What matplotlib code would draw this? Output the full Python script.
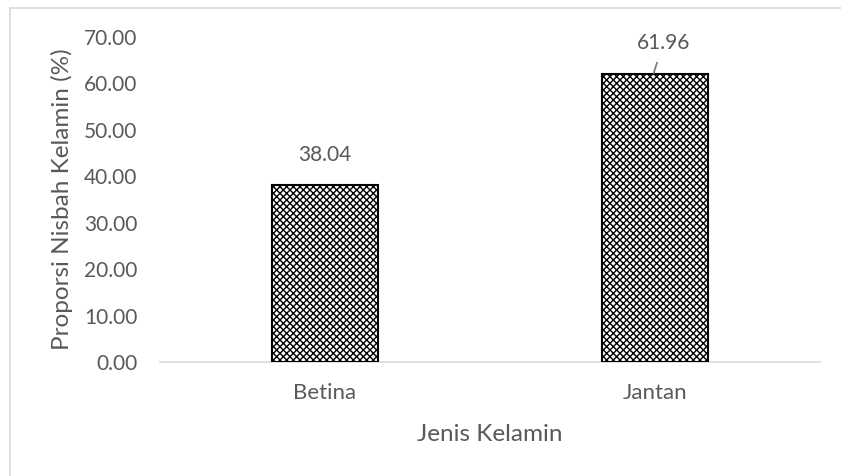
import matplotlib
matplotlib.use("Agg")
import matplotlib.pyplot as plt
from matplotlib.lines import Line2D

categories = ["Betina", "Jantan"]
values = [38.04, 61.96]
yticks = [0, 10, 20, 30, 40, 50, 60, 70]

text_color = "#595959"
plt.rcParams['font.family'] = ['Lato', 'DejaVu Sans']
plt.rcParams['hatch.linewidth'] = 1.0

fig = plt.figure(figsize=(8.41, 4.76), dpi=100)
ax = fig.add_axes([0.190, 0.2395, 0.785, 0.6828])

x = range(len(categories))
ax.bar(x, values, width=0.32, color="white", edgecolor="black",
       linewidth=1.5, hatch="xxxxx", zorder=3)

ax.set_xlim(-0.5, 1.5)
ax.set_ylim(0, 70)
ax.set_yticks(yticks)
ax.set_yticklabels([f"{v:.2f}" for v in yticks])
ax.set_xticks(list(x))
ax.set_xticklabels(categories)
ax.tick_params(axis="both", length=0, colors=text_color)
ax.tick_params(axis="x", pad=15, labelsize=16)
ax.tick_params(axis="y", pad=16, labelsize=15)

for s in ["top", "right", "left"]:
    ax.spines[s].set_visible(False)
ax.spines["bottom"].set_color("#d9d9d9")
ax.spines["bottom"].set_linewidth(1.2)

ax.set_xlabel("Jenis Kelamin", fontsize=17.5, color=text_color, labelpad=15)
ax.set_ylabel("Proporsi Nisbah Kelamin (%)", fontsize=17.5, color=text_color, labelpad=8)

# data labels
ax.annotate(f"{values[0]:.2f}", xy=(0, values[0]), xytext=(0, 30),
            textcoords="offset pixels", ha="center", va="center",
            fontsize=15, color=text_color)
ax.annotate(f"{values[1]:.2f}", xy=(0.995, values[1]), xytext=(10, 31),
            textcoords="offset pixels", ha="center", va="center",
            fontsize=15, color=text_color,
            arrowprops=dict(arrowstyle="-", color="#7f7f7f", lw=1.3,
                            shrinkA=5, shrinkB=1))

# chart frame (partly visible)
fig.add_artist(Line2D([9.5 / 841, 9.5 / 841], [0, 1 - 7.5 / 476],
                      color="#d9d9d9", lw=1.2))
fig.add_artist(Line2D([9.5 / 841, 1], [1 - 7.5 / 476, 1 - 7.5 / 476],
                      color="#d9d9d9", lw=1.2))

fig.savefig("out.png", dpi=100, facecolor="white")
